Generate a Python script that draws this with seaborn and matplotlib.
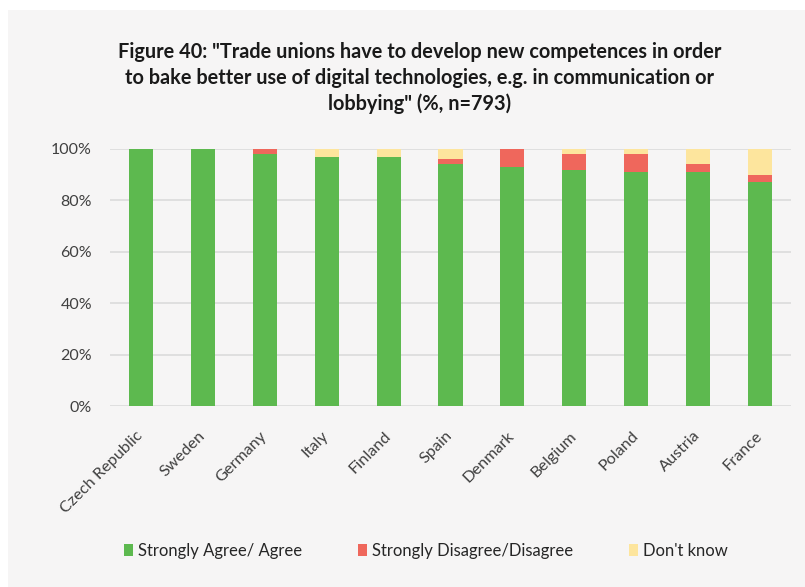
import matplotlib
matplotlib.use("Agg")
import matplotlib.pyplot as plt
from matplotlib.patches import Patch, Rectangle
from matplotlib.ticker import FuncFormatter
import seaborn as sns
import pandas as pd

# Survey shares per country (%)
countries = ["Czech Republic", "Sweden", "Germany", "Italy", "Finland", "Spain",
             "Denmark", "Belgium", "Poland", "Austria", "France"]
agree = [100, 100, 98, 97, 97, 94, 93, 92, 91, 91, 87]
disagree = [0, 0, 2, 0, 0, 2, 7, 6, 7, 3, 3]
dont_know = [0, 0, 0, 3, 3, 4, 0, 2, 2, 6, 10]

series_names = ["Strongly Agree/ Agree", "Strongly Disagree/Disagree", "Don't know"]
colors = ["#5db94f", "#ef675c", "#fde59d"]

title = ('Figure 40: "Trade unions have to develop new competences in order\n'
         'to bake better use of digital technologies, e.g. in communication or\n'
         'lobbying" (%, n=793)')

sns.set_theme(style="white")
plt.rcParams["font.family"] = ["Lato", "DejaVu Sans"]

df = pd.DataFrame({"country": countries, "agree": agree,
                   "disagree": disagree, "dont_know": dont_know})
df["lvl_agree"] = df["agree"]
df["lvl_disagree"] = df["agree"] + df["disagree"]
df["lvl_total"] = df["lvl_disagree"] + df["dont_know"]

fig = plt.figure(figsize=(8.05, 5.87), dpi=100, facecolor="white")
fig.patches.append(Rectangle((8 / 805, 0), 1 - 8 / 805, 1 - 10 / 587,
                             transform=fig.transFigure, facecolor="#f6f5f5",
                             edgecolor="none", zorder=-5))

ax = fig.add_axes([110 / 805, 1 - 406 / 587, 681 / 805, 257 / 587])
ax.set_zorder(2)
ax.set_facecolor("none")

bar_w = 0.39
# stacked bars drawn from the top level down so each segment shows
for col, c in zip(["lvl_total", "lvl_disagree", "lvl_agree"], colors[::-1]):
    sns.barplot(data=df, x="country", y=col, color=c, width=bar_w,
                saturation=1, linewidth=0, edgecolor="none", ax=ax, zorder=3)

ax.set_ylim(0, 100)
ax.set_xlim(-0.5, len(countries) - 0.5)
ax.set_yticks([0, 20, 40, 60, 80, 100])
ax.yaxis.set_major_formatter(FuncFormatter(lambda v, p: f"{v:.0f}%"))
ax.grid(axis="y", color="#d9d9d9", linewidth=1.1, zorder=0)
ax.grid(axis="x", visible=False)
ax.set_axisbelow(True)
for s in ax.spines.values():
    s.set_visible(False)
ax.set_xlabel("")
ax.set_ylabel("")
ax.tick_params(axis="y", length=0, pad=13, labelsize=11.5, labelcolor="#404040")
ax.tick_params(axis="x", length=0, pad=20, labelsize=11.7, labelcolor="#404040")
for lbl in ax.get_xticklabels():
    lbl.set_rotation(45)
    lbl.set_ha("right")
    lbl.set_va("center")
    lbl.set_rotation_mode("anchor")

fig.text(0.521, 1 - 42 / 587, title, ha="center", va="top", fontsize=14.3,
         fontweight="bold", color="#1a1a1a", linespacing=1.36)

handles = [Patch(facecolor=c, edgecolor="none") for c in colors]
fig.legend(handles, series_names, loc="center", bbox_to_anchor=(0.529, 1 - 551 / 587),
           ncol=3, frameon=False, fontsize=12, handlelength=0.5, handleheight=0.75,
           handletextpad=0.3, columnspacing=3.4, labelcolor="#262626")

fig.savefig("out.png", dpi=100, facecolor=fig.get_facecolor())
